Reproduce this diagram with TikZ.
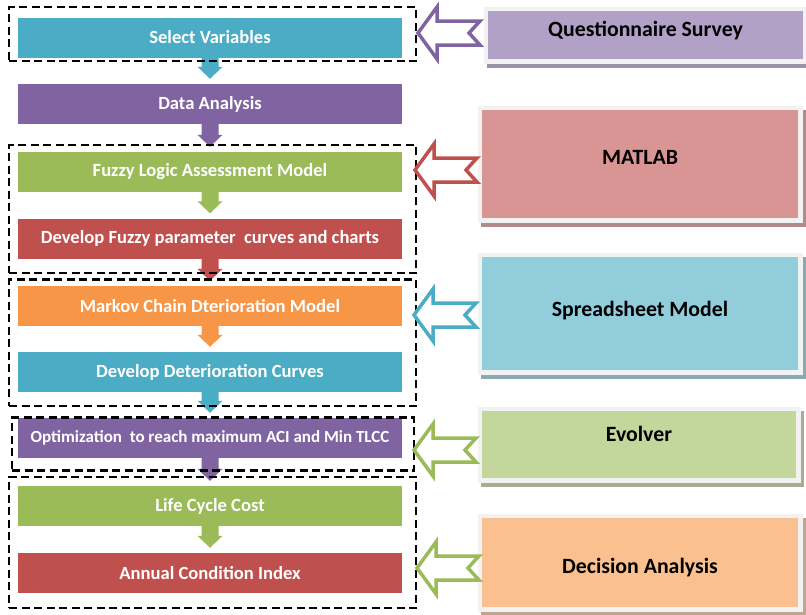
\documentclass[tikz,border=0pt]{standalone}
\usepackage{fontspec}
\setmainfont{Carlito}
\usetikzlibrary{calc,backgrounds}

\definecolor{cteal}{HTML}{4BACC6}
\definecolor{cpurple}{HTML}{8064A2}
\definecolor{cgreen}{HTML}{9BBB59}
\definecolor{cred}{HTML}{C0504D}
\definecolor{corange}{HTML}{F79646}
\definecolor{lpurple}{HTML}{B2A1C7}
\definecolor{lred}{HTML}{D99594}
\definecolor{lblue}{HTML}{92CDDC}
\definecolor{lgreen}{HTML}{C3D69B}
\definecolor{lorange}{HTML}{FAC090}
\definecolor{framegrey}{HTML}{F2F2F2}

% step in the main flow
\tikzset{
  stagebox/.style={rectangle, minimum width=384pt, minimum height=40pt,
    inner sep=0pt, text=white, font=\fontsize{18.6}{22}\selectfont\bfseries},
  groupbox/.style={rectangle, draw=black, line width=2.6pt,
    dash pattern=on 8pt off 4.5pt, inner sep=0pt},
  toolbox/.style={rectangle, draw=framegrey, line width=4.5pt, inner sep=0pt},
  toollabel/.style={text=black, font=\fontsize{21.8}{26}\selectfont\bfseries},
}

% solid block arrow between two stages
\newcommand\stagearrow[3]{%
  \fill[#3] ($(#1.south)+(-8.5,0)$) -- ($(#2.north)+(-8.5,-17)$)
    -- ($(#2.north)+(-12.5,-17)$) -- ($(#2.north)+(0,-5)$)
    -- ($(#2.north)+(12.5,-17)$) -- ($(#2.north)+(8.5,-17)$)
    -- ($(#1.south)+(8.5,0)$) -- cycle;}

% hollow notched arrow from a tool to a group
\newcommand\feedarrow[2]{%
  \draw[#2, line width=3.5pt, fill=white, line join=miter]
    (#1) -- ++(19,-26) -- ++(0,14) -- ++(43,0) -- ++(-11,12)
    -- ++(11,12) -- ++(-43,0) -- ++(0,14) -- cycle;}

\begin{document}
\begin{tikzpicture}[x=1pt,y=-1pt]
\useasboundingbox (0,0) rectangle (806,614);

% main flow
\node[stagebox, fill=cteal]   (sel)      at (210,37.5) {Select Variables};
\node[stagebox, fill=cpurple] (data)     at (210,104)  {Data Analysis};
\node[stagebox, fill=cgreen]  (fuzzy)    at (210,172)  {Fuzzy Logic Assessment Model};
\node[stagebox, fill=cred]    (devfuzzy) at (210,238.5){Develop Fuzzy parameter\ \ curves and charts};
\node[stagebox, fill=corange] (markov)   at (210,306)  {Markov Chain Dterioration Model};
\node[stagebox, fill=cteal]   (devdet)   at (210,372)  {Develop Deterioration Curves};
\node[stagebox, fill=cpurple, font=\fontsize{17}{20}\selectfont\bfseries]
                              (opt)      at (210,438)  {Optimization\ \ to reach maximum ACI and Min TLCC};
\node[stagebox, fill=cgreen]  (lcc)      at (210,506)  {Life Cycle Cost};
\node[stagebox, fill=cred]    (aci)      at (210,573)  {Annual Condition Index};

\stagearrow{sel}{data}{cteal}
\stagearrow{data}{fuzzy}{cpurple}
\stagearrow{fuzzy}{devfuzzy}{cgreen}
\stagearrow{devfuzzy}{markov}{cred}
\stagearrow{markov}{devdet}{corange}
\stagearrow{devdet}{opt}{cteal}
\stagearrow{opt}{lcc}{cpurple}
\stagearrow{lcc}{aci}{cgreen}

% dashed groups
\node[groupbox, minimum width=407pt, minimum height=54pt]    (g1) at (212.5,34)    {};
\node[groupbox, minimum width=407pt, minimum height=128pt]   (g2) at (212.5,209)   {};
\node[groupbox, minimum width=407pt, minimum height=126.5pt] (g3) at (212.5,342.75) {};
\node[groupbox, minimum width=402pt, minimum height=53pt]    (g4) at (213,444)     {};
\node[groupbox, minimum width=407pt, minimum height=131pt]   (g5) at (212.5,542.5) {};

% tools
\node[toolbox, fill=lpurple, minimum width=319.5pt, minimum height=52.5pt]  (quest)  at (645.5,35)  {};
\node[toolbox, fill=lred,    minimum width=320.5pt, minimum height=112.5pt] (matlab) at (640,164)   {};
\node[toolbox, fill=lblue,   minimum width=320.5pt, minimum height=117.5pt] (sheet)  at (640,313.5) {};
\node[toolbox, fill=lgreen,  minimum width=318.5pt, minimum height=71.5pt]  (evol)   at (639,444.5) {};
\node[toolbox, fill=lorange, minimum width=320.5pt, minimum height=93.5pt]  (dec)    at (640,562.5) {};

\begin{scope}[on background layer]
  \foreach \b/\c in {quest/lpurple, matlab/lred, sheet/lblue, evol/lgreen, dec/lorange}
    \fill[\c!55!gray] ($(\b.south west)+(3,4)$) rectangle ($(\b.north east)+(3,4)$);
\end{scope}

\node[toollabel] (questlbl)  at ($(quest.center)+(0,-4)$)  {Questionnaire Survey};
\node[toollabel] (matlablbl) at ($(matlab.center)+(0,-7)$) {MATLAB};
\node[toollabel] (sheetlbl)  at ($(sheet.center)+(0,-3)$)  {Spreadsheet Model};
\node[toollabel] (evollbl)   at ($(evol.center)+(0,-11)$)  {Evolver};
\node[toollabel] (declbl)    at ($(dec.center)+(0,5)$)     {Decision Analysis};

% tool inputs
\coordinate (in1) at (418,33);
\coordinate (in2) at (415,170);
\coordinate (in3) at (414,315);
\coordinate (in4) at (414,450);
\coordinate (in5) at (417,568);
\feedarrow{in1}{cpurple}
\feedarrow{in2}{cred}
\feedarrow{in3}{cteal}
\feedarrow{in4}{cgreen}
\feedarrow{in5}{cgreen}
\end{tikzpicture}
\end{document}
